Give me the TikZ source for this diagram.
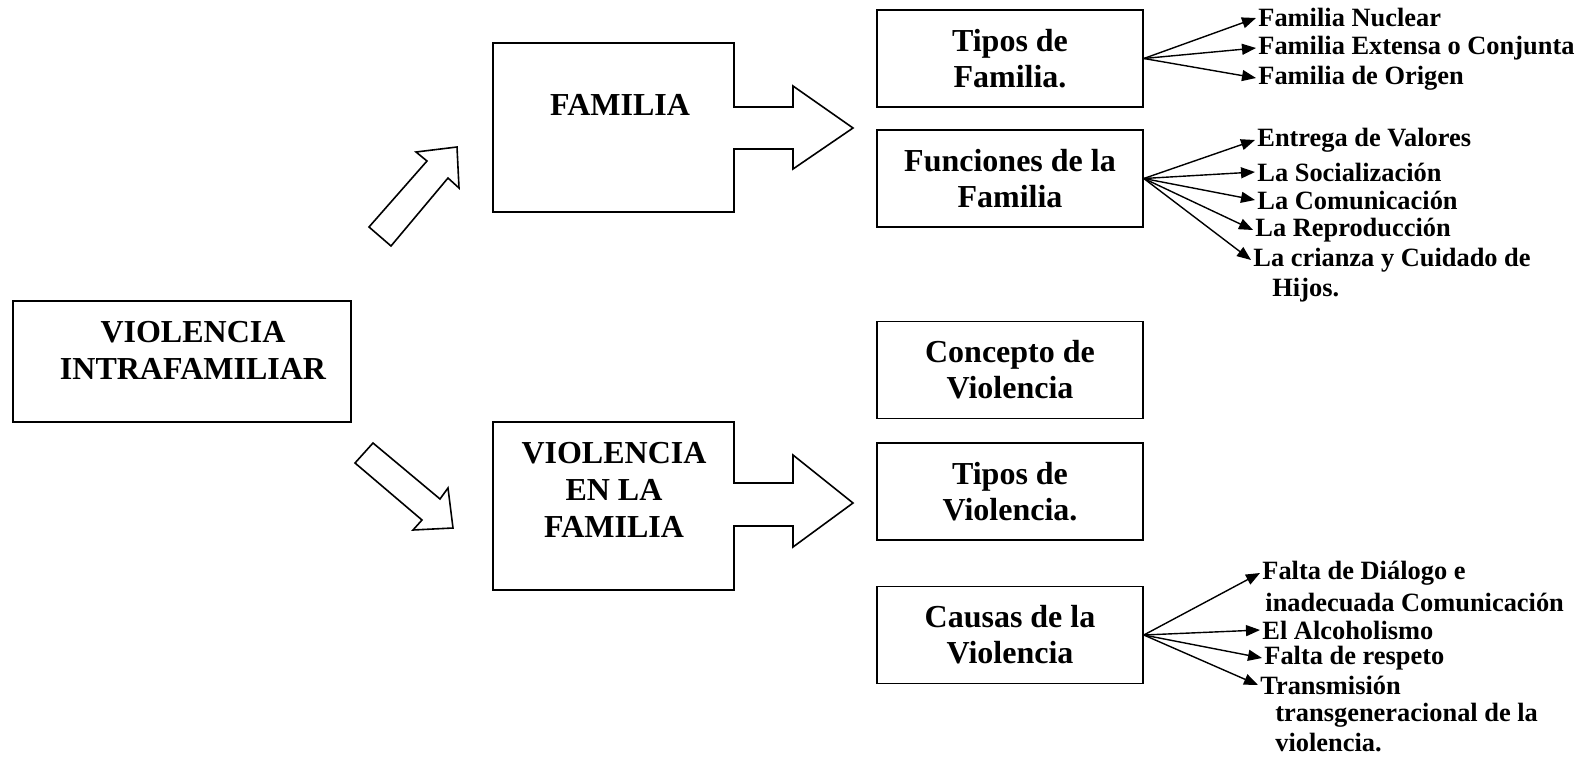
\documentclass[tikz,border=0pt]{standalone}
\usepackage{fontspec}
\setmainfont{Liberation Serif}
\usetikzlibrary{arrows.meta}

\tikzset{
	box/.style={draw, line width=0.8pt, align=center, inner sep=0pt, font=\bfseries\fontsize{16}{18}\selectfont},
	midbox/.style={box, minimum width=133pt, minimum height=48.5pt},
	boxtext/.style={align=center, inner sep=0pt, font=\bfseries\fontsize{16}{18.5}\selectfont},
	item/.style={anchor=west, inner sep=1pt, font=\bfseries\fontsize{13.2}{15}\selectfont},
	link/.style={line width=0.7pt, -{Triangle[length=7pt,width=5.5pt]}},
	bigarrow/.style={draw, line width=0.8pt, line join=miter}
}

\begin{document}
\begin{tikzpicture}[x=0.5pt, y=-0.5pt]
			\useasboundingbox (0,0) rectangle (1589,765);
			% main box
			\node[box, minimum width=169pt, minimum height=60.5pt] (vif) at (182,361.5) {};
			\node[boxtext] (viftxt) at (193,350) {VIOLENCIA\\INTRAFAMILIAR};
			% block arrows
			\draw[bigarrow] (369,227) -- (427,161) -- (416,152) -- (457,147) -- (459,188) -- (448,178) -- (391,246) -- cycle;
			\draw[bigarrow] (373,443) -- (440,499) -- (448,488) -- (453,528) -- (413,530) -- (422,520) -- (355,463) -- cycle;
			% callout boxes
			\draw[bigarrow] (493,43) -- (734,43) -- (734,107) -- (793,107) -- (793,86) -- (853,128) -- (793,169) -- (793,149) -- (734,149) -- (734,212) -- (493,212) -- cycle;
			\node[boxtext] (fam) at (620,105) {FAMILIA};
			\draw[bigarrow] (493,422) -- (734,422) -- (734,483) -- (793,483) -- (793,455) -- (853,503) -- (793,547) -- (793,526) -- (734,526) -- (734,590) -- (493,590) -- cycle;
			\node[boxtext] (vfam) at (614,490) {VIOLENCIA\\EN LA\\FAMILIA};
			% middle column
			\node[midbox] (tipfam) at (1010,58.5) {Tipos de\\Familia.};
			\node[midbox] (funfam) at (1010,178.5) {Funciones de la\\Familia};
			\node[midbox] (concvio) at (1010,370) {Concepto de\\Violencia};
			\node[midbox] (tipvio) at (1010,491.5) {Tipos de\\Violencia.};
			\node[midbox] (cauvio) at (1010,635) {Causas de la\\Violencia};
			% tipos de familia
			\node[item] (nuc) at (1256,18) {Familia Nuclear};
			\node[item] (ext) at (1256,48) {Familia Extensa o Conjunta};
			\node[item] (ori) at (1256,78) {Familia de Origen};
			\foreach \t in {nuc,ext,ori}
				\draw[link] (tipfam.east) -- (\t.west);
			% funciones
			\node[item] (val) at (1255,140) {Entrega de Valores};
			\node[item] (soc) at (1255,172) {La Socialización};
			\node[item] (com) at (1255,200) {La Comunicación};
			\node[item] (rep) at (1253,230) {La Reproducción};
			\node[item] (cri) at (1251,260) {La crianza y Cuidado de};
			\node[item] (hij) at (1270,290) {Hijos.};
			\foreach \t in {val,soc,com,rep,cri}
				\draw[link] (funfam.east) -- (\t.west);
			% causas
			\node[item] (dia) at (1260,573) {Falta de Diálogo e};
			\node[item] (ina) at (1263,602) {inadecuada Comunicación};
			\node[item] (alc) at (1260,630) {El Alcoholismo};
			\node[item] (res) at (1262,658) {Falta de respeto};
			\node[item] (tra) at (1258,685) {Transmisión};
			\node[item] (tgen) at (1273,715) {transgeneracional de la};
			\node[item] (vio) at (1273,743) {violencia.};
			\foreach \t in {dia,alc,res,tra}
				\draw[link] (cauvio.east) -- (\t.west);
\end{tikzpicture}
\end{document}
